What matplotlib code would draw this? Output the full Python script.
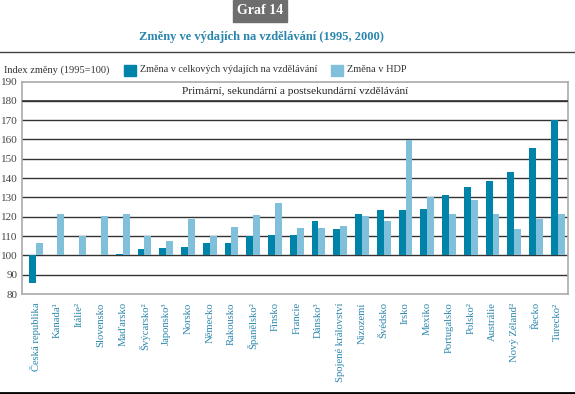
import numpy as np
import matplotlib
matplotlib.use("Agg")
import matplotlib.pyplot as plt

plt.rcParams['font.family'] = ['Liberation Serif', 'DejaVu Serif']

# data (index 1995 = 100)
countries = ['Česká republika', 'Kanada¹', 'Itálie²', 'Slovensko', 'Maďarsko',
             'Švýcarsko²', 'Japonsko³', 'Norsko', 'Německo', 'Rakousko',
             'Španělsko²', 'Finsko', 'Francie', 'Dánsko³', 'Spojené království',
             'Nizozemí', 'Švédsko', 'Irsko', 'Mexiko', 'Portugalsko',
             'Polsko²', 'Austrálie', 'Nový Zéland²', 'Řecko', 'Turecko²']
expenditure = [85.7, 100.2, 100.2, 100.2, 100.9, 103.3, 103.8, 104.5, 106.5, 106.5,
               110.0, 110.7, 110.7, 117.6, 113.8, 121.2, 123.5, 123.5, 124.0, 131.4,
               135.6, 138.3, 143.0, 155.8, 170.0]
gdp = [106.4, 121.6, 110.2, 120.2, 121.6, 110.0, 107.6, 118.6, 110.0, 114.5,
       120.7, 127.1, 114.3, 114.3, 115.4, 120.2, 117.6, 159.9, 130.2, 121.2,
       128.9, 121.2, 113.5, 118.6, 121.2]
yticks = list(range(80, 191, 10))

dark = '#0083a8'
light = '#80c0da'
teal_text = '#2a86ad'

fig = plt.figure(figsize=(5.75, 3.94), dpi=100)
ax = fig.add_axes([22/575, 1 - 294/394, 546/575, (294 - 81.5)/394])

x = np.arange(len(countries))
w = 0.32
base = 100
ax.bar(x - w/2, np.array(expenditure) - base, w, bottom=base, color=dark, zorder=3)
ax.bar(x + w/2, np.array(gdp) - base, w, bottom=base, color=light, zorder=3)

ax.set_xlim(-0.63, len(countries) - 0.53)
ax.set_ylim(80, 190)
ax.set_yticks(yticks)
ax.set_yticklabels([str(t) for t in yticks], fontsize=8, color='#444444')
for t in yticks[1:-1]:
    ax.axhline(t, color='#333333', lw=1, zorder=1)
ax.axhline(180, color='#333333', lw=1.2, zorder=4)
ax.tick_params(axis='y', length=0, pad=3)
ax.set_xticks(x)
ax.set_xticklabels(countries, rotation=90, fontsize=7.7, color=teal_text, va='top')
ax.tick_params(axis='x', length=0, pad=6)
for s in ax.spines.values():
    s.set_color('#aaaaaa')
    s.set_linewidth(1.2)

ax.text(0.5, 185, 'Primární, sekundární a postsekundární vzdělávání',
        transform=ax.get_yaxis_transform(), ha='center', va='center', fontsize=8.2,
        color='#222222')

# header
fig.patches.append(plt.Rectangle((233/575, 1 - 22/394), 54/575, 22/394,
                                 transform=fig.transFigure, color='#6e6e6e'))
fig.text(260/575, 1 - 11/394, 'Graf 14', ha='center', va='center', color='white',
         fontsize=10, fontweight='bold')
fig.text(261/575, 1 - 37/394, 'Změny ve výdajích na vzdělávání (1995, 2000)',
         ha='center', va='center', color=teal_text, fontsize=9, fontweight='bold')
fig.add_artist(plt.Line2D([0, 1], [1 - 52/394, 1 - 52/394], color='#444444', lw=1))
fig.add_artist(plt.Line2D([0, 1], [1 - 393/394, 1 - 393/394], color='black', lw=2))

# legend row
fig.text(4/575, 1 - 70/394, 'Index změny (1995=100)', ha='left', va='center',
         fontsize=7.5, color='#333333')
fig.patches.append(plt.Rectangle((124/575, 1 - 76/394), 12/575, 11/394,
                                 transform=fig.transFigure, color=dark))
fig.text(140/575, 1 - 70/394, 'Změna v celkových výdajích na vzdělávání', ha='left',
         va='center', fontsize=7.3, color='#333333')
fig.patches.append(plt.Rectangle((331/575, 1 - 76/394), 12/575, 11/394,
                                 transform=fig.transFigure, color=light))
fig.text(347/575, 1 - 70/394, 'Změna v HDP', ha='left', va='center', fontsize=7.5,
         color='#333333')

fig.savefig('out.png', dpi=100)
